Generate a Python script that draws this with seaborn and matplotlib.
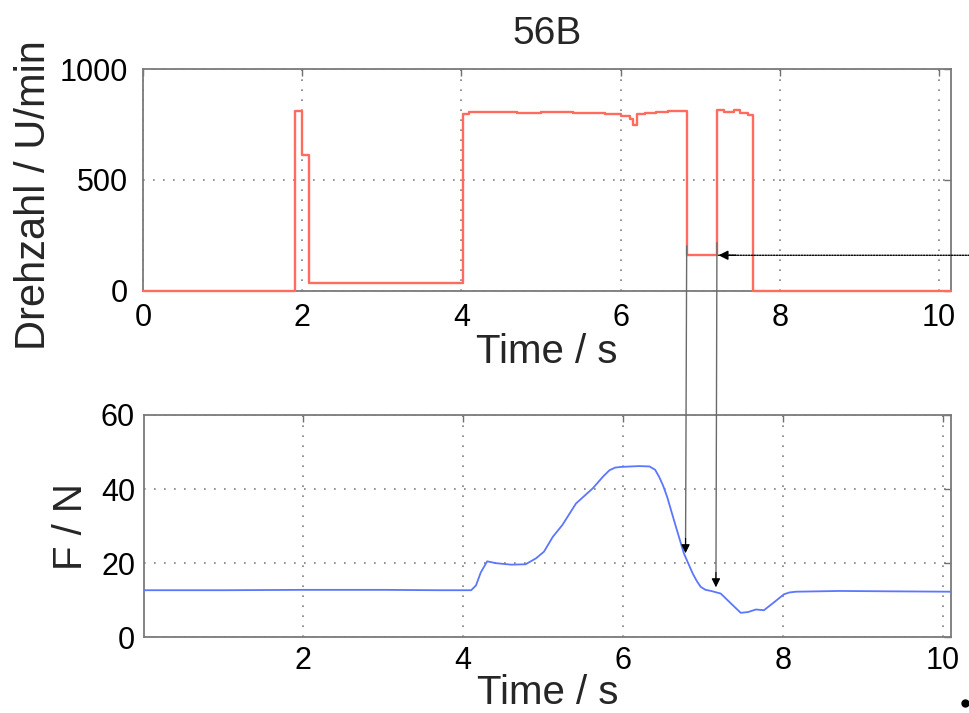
import matplotlib
matplotlib.use("Agg")
import matplotlib.pyplot as plt
import seaborn as sns
import pandas as pd

# Drehzahl step signal: switching times (s) and value held from that time on (U/min)
speed_t = [0.00, 1.91, 2.00, 2.09, 4.02, 4.10, 4.40, 4.70, 5.00, 5.40, 5.80, 6.00,
           6.12, 6.15, 6.21, 6.30, 6.45, 6.60, 6.83, 7.21, 7.30, 7.42, 7.50, 7.60,
           7.66, 10.15]
speed_v = [0, 811, 611, 35, 798, 805, 808, 803, 805, 801, 800, 790,
           775, 748, 796, 804, 808, 812, 160, 814, 806, 816, 804, 792,
           0, 0]

# Force curve: time (s) and force (N)
force_t = [0.00, 1.00, 2.00, 3.00, 3.70, 4.10, 4.16, 4.22, 4.30, 4.41, 4.60, 4.78,
           4.91, 5.01, 5.12, 5.24, 5.41, 5.62, 5.75, 5.83, 5.90, 5.99, 6.20, 6.33,
           6.40, 6.45, 6.50, 6.55, 6.66, 6.76, 6.87, 6.92, 6.97, 7.03, 7.10, 7.22,
           7.33, 7.47, 7.56, 7.66, 7.76, 7.89, 8.01, 8.08, 8.16, 8.70, 9.37, 10.10]
force_v = [12.7, 12.7, 12.8, 12.8, 12.7, 12.7, 14.0, 17.5, 20.5, 20.0, 19.6, 19.7,
           21.3, 23.1, 27.1, 30.3, 36.1, 40.2, 43.4, 45.1, 45.8, 46.0, 46.2, 46.1,
           45.2, 43.3, 40.9, 37.9, 29.8, 22.6, 17.2, 15.2, 13.6, 12.8, 12.5, 11.8,
           9.5, 6.6, 6.8, 7.5, 7.3, 9.5, 11.6, 12.1, 12.3, 12.5, 12.4, 12.3]

title_text = "56B"
speed_label = "Drehzahl / U/min"
force_label = "F / N"
time_label = "Time / s"
speed_ticks = [0, 500, 1000]
force_ticks = [0, 20, 40, 60]
time_ticks_top = [0, 2, 4, 6, 8, 10]
time_ticks_bottom = [2, 4, 6, 8, 10]

sns.set_theme(style="white")
plt.rcParams["font.family"] = ["Liberation Sans", "DejaVu Sans"]

speed_df = pd.DataFrame({"t": speed_t, "n": speed_v})
force_df = pd.DataFrame({"t": force_t, "F": force_v})

fig = plt.figure(figsize=(9.7, 7.13), dpi=100)
ax1 = fig.add_axes([0.1474, 0.5923, 0.833, 0.3105])
ax2 = fig.add_axes([0.1485, 0.1062, 0.832, 0.3118])

sns.lineplot(data=speed_df, x="t", y="n", ax=ax1, color="#ff6b5e", lw=1.7,
             drawstyle="steps-post", estimator=None, sort=False, zorder=3,
             clip_on=False)
sns.lineplot(data=force_df, x="t", y="F", ax=ax2, color="#5b76ff", lw=1.3,
             estimator=None, sort=False, zorder=3)

grid_kw = dict(color="#808080", linestyle=(0, (1, 5)), linewidth=1.2)
for ax in (ax1, ax2):
    ax.grid(True, **grid_kw)
    for sp in ax.spines.values():
        sp.set_color("#7a7a7a")
        sp.set_linewidth(1.3)
    ax.tick_params(direction="in", top=True, right=True, length=5, width=1.0,
                   color="#707070", labelsize=22, labelcolor="black")

ax1.set_xlim(0, 10.15)
ax1.set_ylim(0, 1000)
ax1.set_xticks(time_ticks_top)
ax1.set_yticks(speed_ticks)
ax1.tick_params(axis="y", pad=11)
ax1.tick_params(axis="x", pad=9)
ax1.set_xlabel(time_label, fontsize=29, labelpad=0)
ax1.set_ylabel(speed_label, fontsize=30)
ax1.yaxis.set_label_coords(-0.110, 0.43)
ax1.set_title(title_text, fontsize=28, pad=18)

ax2.set_xlim(0.01, 10.1)
ax2.set_ylim(0, 60)
ax2.set_xticks(time_ticks_bottom)
ax2.set_yticks(force_ticks)
ax2.tick_params(axis="y", pad=6.5)
ax2.tick_params(axis="x", pad=6)
ax2.set_xlabel(time_label, fontsize=29, labelpad=-1.5)
ax2.set_ylabel(force_label, fontsize=29, labelpad=8)

# Horizontal dotted pointer into the low-speed plateau
ax1.annotate("", xy=(7.23, 160), xytext=(10.38, 160),
             arrowprops=dict(arrowstyle="-", linestyle=(0, (1, 1)), lw=1.0,
                             color="black", shrinkA=0, shrinkB=0),
             annotation_clip=False)
ax1.annotate("", xy=(7.23, 160), xytext=(7.45, 160),
             arrowprops=dict(arrowstyle="-|>", mutation_scale=14, lw=1.0,
                             color="black", shrinkA=0, shrinkB=0),
             annotation_clip=False)

# Vertical pointers from the speed plateau edges down to the force curve
for x_top, y_top, x_bot, y_bot in [(6.83, 203, 6.78, 22.7), (7.21, 217, 7.16, 13.5)]:
    ax2.annotate("", xy=(x_bot, y_bot), xycoords="data",
                 xytext=(x_top, y_top), textcoords=ax1.transData,
                 arrowprops=dict(arrowstyle="-", lw=1.0, color="#6a6a6a",
                                 shrinkA=0, shrinkB=4),
                 annotation_clip=False)
    ax2.annotate("", xy=(x_bot, y_bot), xycoords="data",
                 xytext=(x_bot, y_bot + 4), textcoords="data",
                 arrowprops=dict(arrowstyle="-|>", mutation_scale=13, lw=0.8,
                                 color="black", shrinkA=0, shrinkB=0),
                 annotation_clip=False)

# small mark in the lower right corner
ax2.plot([0.9948], [0.014], "o", ms=5, color="black", transform=fig.transFigure,
         clip_on=False)

fig.savefig("out.png", dpi=100)
